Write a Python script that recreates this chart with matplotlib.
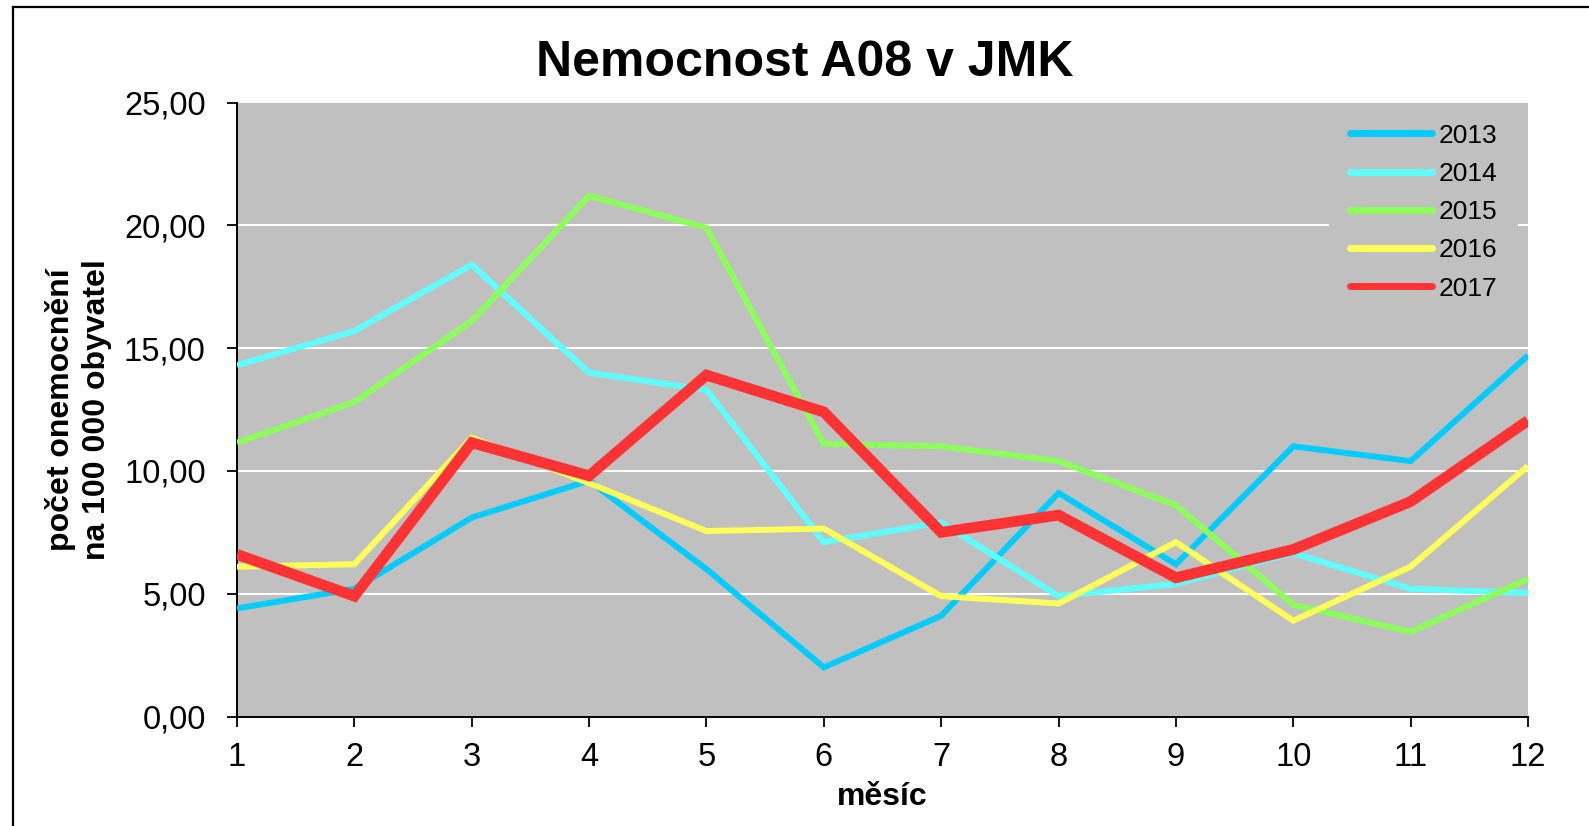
import matplotlib.pyplot as plt
from matplotlib.lines import Line2D
from matplotlib.ticker import FuncFormatter

plt.rcParams['font.family'] = ['Liberation Sans', 'DejaVu Sans']

# months on x, incidence per 100 000 inhabitants on y
months = list(range(1, 13))
y2013 = [4.4, 5.2, 8.1, 9.6, 6.0, 2.0, 4.1, 9.1, 6.2, 11.0, 10.4, 14.7]
y2014 = [14.3, 15.7, 18.4, 14.0, 13.3, 7.1, 7.9, 4.9, 5.4, 6.65, 5.2, 5.03]
y2015 = [11.15, 12.8, 16.1, 21.2, 19.9, 11.1, 11.0, 10.4, 8.6, 4.55, 3.45, 5.6]
y2016 = [6.1, 6.2, 11.35, 9.5, 7.55, 7.65, 4.9, 4.6, 7.1, 3.9, 6.1, 10.2]
y2017 = [6.6, 4.9, 11.15, 9.8, 13.9, 12.4, 7.5, 8.2, 5.65, 6.8, 8.75, 12.05]

years = ['2013', '2014', '2015', '2016', '2017']
series = [y2013, y2014, y2015, y2016, y2017]
colors = ['#00CCFF', '#5FFFFF', '#8CFF5A', '#FFFF5A', '#FF3333']
widths = [4.3, 4.3, 4.3, 4.3, 7.8]

W, H = 1589, 826


def main():
    fig = plt.figure(figsize=(W / 100, H / 100), dpi=100)
    # plot area in pixels: x 237..1528, y 102.5..716.5
    ax = fig.add_axes([237 / W, 1 - 716.5 / H, (1528 - 237) / W, (716.5 - 102.5) / H])
    ax.set_facecolor('#C0C0C0')

    for v in [5, 10, 15, 20]:
        ax.axhline(v, color='white', lw=1.5, zorder=1)

    for yr, vals, c, w in zip(years, series, colors, widths):
        ax.plot(months, vals, color=c, lw=w, label=yr, zorder=3,
                solid_joinstyle='miter', solid_capstyle='butt')

    ax.set_xlim(1, 12)
    ax.set_ylim(0, 25)
    ax.set_xticks(months)
    ax.set_yticks([0, 5, 10, 15, 20, 25])
    ax.yaxis.set_major_formatter(FuncFormatter(lambda v, p: f'{v:.2f}'.replace('.', ',')))
    ax.tick_params(axis='both', direction='out', length=7.5, width=1.3,
                   labelsize=23.5, colors='black')
    ax.tick_params(axis='y', pad=15)
    ax.tick_params(axis='x', pad=11)
    for s in ['top', 'right']:
        ax.spines[s].set_visible(False)
    for s in ['left', 'bottom']:
        ax.spines[s].set_linewidth(1.4)

    fig.text(805 / W, 1 - 76 / H, 'Nemocnost A08 v JMK', fontsize=36,
             fontweight='bold', ha='center', va='baseline')

    ax.set_xlabel('měsíc', fontsize=23, fontweight='bold', va='top')
    ax.xaxis.set_label_coords(0.5, -0.107)
    ax.set_ylabel('počet onemocnění\nna 100 000 obyvatel', fontsize=23,
                  fontweight='bold', linespacing=1.25)
    ax.yaxis.label.set_verticalalignment('center')
    ax.yaxis.set_label_coords(-0.123, 0.5)

    handles = [Line2D([], [], color=c, lw=5, solid_capstyle='round') for c in colors]
    leg = ax.legend(handles, years, loc='upper right', bbox_to_anchor=(0.9923, 1.0),
                    fontsize=19, frameon=True, handlelength=3.1, handletextpad=0.25,
                    labelspacing=0.54, borderpad=0.8, borderaxespad=0)
    leg.get_frame().set_facecolor('#C0C0C0')
    leg.get_frame().set_edgecolor('none')
    leg.get_frame().set_alpha(1)
    leg.get_frame().set_boxstyle('square', pad=0)
    leg.set_zorder(4)

    # outer chart border (top and left sides are visible in the crop)
    fig.add_artist(Line2D([13 / W, 1.0], [1 - 7 / H, 1 - 7 / H],
                          transform=fig.transFigure, color='black', lw=1.6))
    fig.add_artist(Line2D([13 / W, 13 / W], [0.0, 1 - 7 / H],
                          transform=fig.transFigure, color='black', lw=1.6))

    fig.savefig('out.png', dpi=100, facecolor='white')


if __name__ == "__main__":
    main()
